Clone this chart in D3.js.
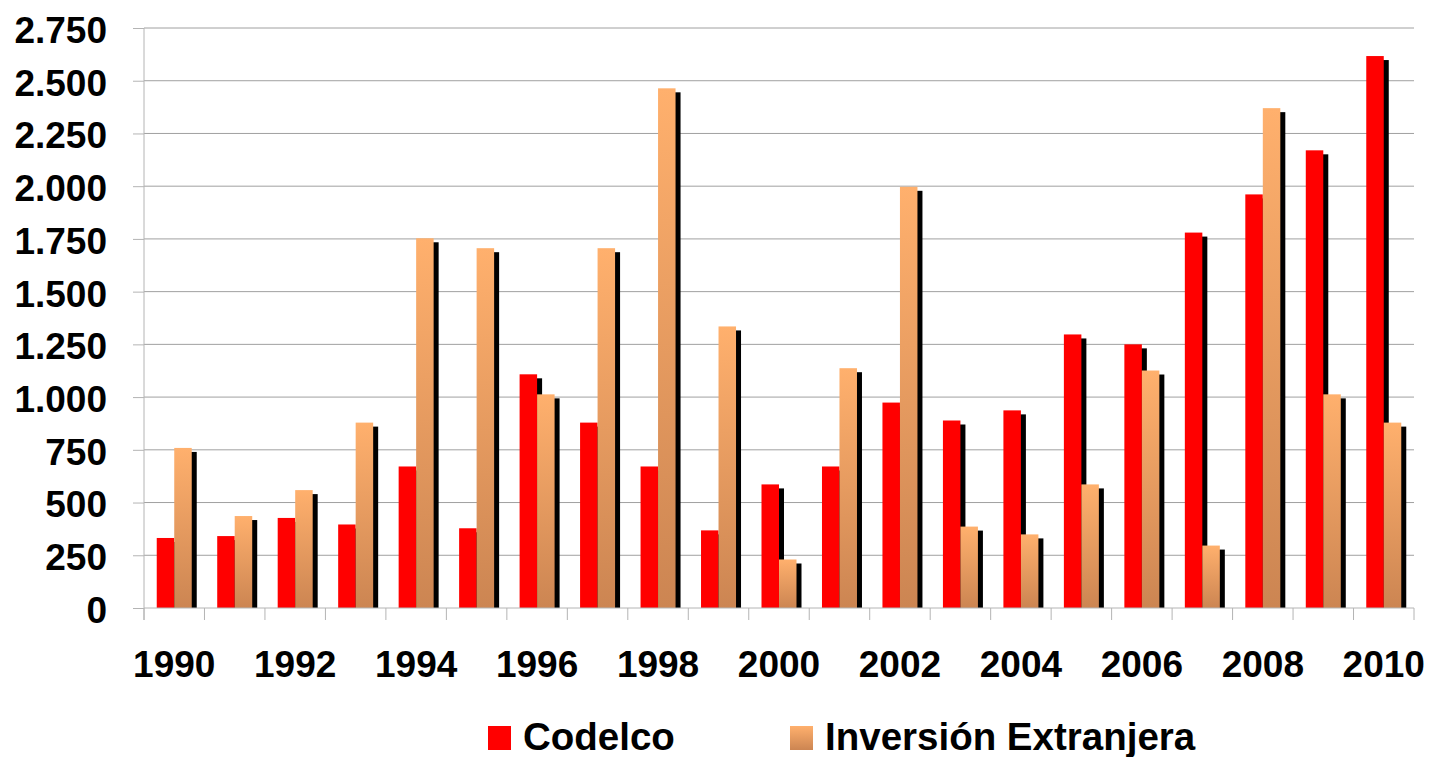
<!DOCTYPE html>
<html>
<head>
<meta charset="utf-8">
<script src="https://cdn.jsdelivr.net/npm/d3@7"></script>
<style>
  body { margin: 0; background: #fff; }
  text { font-family: Arial, "Liberation Sans", sans-serif; font-weight: bold; fill: #000; }
  .axis path, .axis line { stroke: #b4b4b4; }
</style>
</head>
<body>
<div class="chart"></div>
<script>
// DATA ------------------------------
const years = d3.range(1990, 2011)
const codelco = [332, 341, 427, 396, 671, 378, 1108, 879, 671, 368, 586, 671, 974, 889, 937, 1297, 1250, 1780, 1961, 2170, 2617]
const inversion = [759, 436, 559, 879, 1753, 1706, 1013, 1706, 2464, 1335, 230, 1137, 1997, 386, 349, 586, 1126, 296, 2370, 1013, 879]
const seriesNames = ['Codelco', 'Inversión Extranjera']
const yTicks = [0, 250, 500, 750, 1000, 1250, 1500, 1750, 2000, 2250, 2500, 2750]
const xLabels = [1990, 1992, 1994, 1996, 1998, 2000, 2002, 2004, 2006, 2008, 2010]

const data = years.map((y, i) => ({year: y, values: [codelco[i], inversion[i]]}))

// MARGIN CONVENTION
const margin = ({top: 28, right: 16, bottom: 149, left: 144})
const width = 1430 - margin.left - margin.right,
  height = 757 - margin.top - margin.bottom

const svg = d3.select('.chart')
  .append('svg')
  .attr('width', 1430)
  .attr('height', 757)

const defs = svg.append('defs')
const grad = defs.append('linearGradient')
  .attr('id', 'orangeGrad')
  .attr('x1', 0).attr('y1', 0).attr('x2', 0).attr('y2', 1)
grad.append('stop').attr('offset', '0%').attr('stop-color', '#ffb06d')
grad.append('stop').attr('offset', '100%').attr('stop-color', '#cc8552')

defs.append('clipPath').attr('id', 'plotClip')
  .append('rect').attr('x', 0).attr('y', -10).attr('width', width + 10).attr('height', height + 10)

const g = svg.append('g')
  .attr('transform', `translate(${margin.left},${margin.top})`)

const fills = ['#ff0000', 'url(#orangeGrad)']

// scales
const x0 = d3.scaleBand()
  .domain(years)
  .range([0, width])
  .paddingInner(0.4213)
  .paddingOuter(0.4213 / 2)
const x1 = d3.scaleBand()
  .domain([0, 1])
  .range([0, x0.bandwidth()])
const y = d3.scaleLinear()
  .domain([0, 2750])
  .range([height, 0])

const locale = d3.formatLocale({decimal: ',', thousands: '.', grouping: [3], currency: ['', '']})
const fmt = locale.format(',d')

// gridlines
g.append('g')
  .selectAll('line')
  .data(yTicks.filter(d => d > 0))
  .join('line')
  .attr('x1', 0)
  .attr('x2', width)
  .attr('y1', d => y(d))
  .attr('y2', d => y(d))
  .attr('stroke', '#a0a0a0')
  .attr('stroke-width', 1)

// y axis
const yAxis = d3.axisLeft(y)
  .tickValues(yTicks)
  .tickFormat(fmt)
  .tickSize(11)
  .tickPadding(26)
  .tickSizeOuter(0)
const yAxisG = g.append('g')
  .attr('class', 'axis y-axis')
  .call(yAxis)
yAxisG.select('.domain').remove()
yAxisG.selectAll('text')
  .attr('font-size', 37)
  .attr('dy', '0.39em')
  .style('font-family', 'Arial, "Liberation Sans", sans-serif')
  .style('font-weight', 'bold')
yAxisG.selectAll('line').attr('stroke', '#a0a0a0')
g.append('line')
  .attr('x1', 0).attr('x2', 0)
  .attr('y1', 0).attr('y2', height + 12)
  .attr('stroke', '#b4b4b4')

// bars: shadows first, then bars
const bars = g.append('g').attr('clip-path', 'url(#plotClip)')
const groups = bars.selectAll('.grp')
  .data(data)
  .join('g')
  .attr('class', 'grp')
  .attr('transform', d => `translate(${x0(d.year)},0)`)

groups.selectAll('.shadow')
  .data(d => d.values.map((v, i) => ({i, v})))
  .join('rect')
  .attr('class', 'shadow')
  .attr('x', d => x1(d.i) + 5)
  .attr('y', d => y(d.v) + 4)
  .attr('width', x1.bandwidth())
  .attr('height', d => Math.max(0, height - y(d.v) - 4))
  .attr('fill', '#000')

;[0, 1].forEach(s => {
  groups.append('rect')
    .attr('class', 'bar')
    .attr('x', x1(s))
    .attr('y', d => y(d.values[s]))
    .attr('width', x1.bandwidth())
    .attr('height', d => height - y(d.values[s]))
    .attr('fill', fills[s])
})

// x axis
g.append('line')
  .attr('x1', 0).attr('x2', width)
  .attr('y1', height).attr('y2', height)
  .attr('stroke', '#b4b4b4')
g.append('g')
  .selectAll('line')
  .data(years.concat([null]))
  .join('line')
  .attr('x1', (d, i) => i * x0.step())
  .attr('x2', (d, i) => i * x0.step())
  .attr('y1', height)
  .attr('y2', height + 12)
  .attr('stroke', '#b4b4b4')

const xAxis = d3.axisBottom(x0)
  .tickValues(xLabels)
  .tickSize(0)
  .tickPadding(0)
const xAxisG = g.append('g')
  .attr('class', 'axis x-axis')
  .attr('transform', `translate(0,${height})`)
  .call(xAxis)
xAxisG.select('.domain').remove()
xAxisG.selectAll('text')
  .attr('font-size', 37)
  .attr('y', 69)
  .attr('dy', 0)
  .style('font-family', 'Arial, "Liberation Sans", sans-serif')
  .style('font-weight', 'bold')

// legend
const legend = svg.append('g')
const legX = [488, 790]
seriesNames.forEach((name, i) => {
  legend.append('rect')
    .attr('x', legX[i])
    .attr('y', 726)
    .attr('width', 23)
    .attr('height', 24)
    .attr('fill', fills[i])
  legend.append('text')
    .attr('x', legX[i] + 35)
    .attr('y', 750)
    .attr('font-size', 38.5)
    .text(name)
})
</script>
</body>
</html>
